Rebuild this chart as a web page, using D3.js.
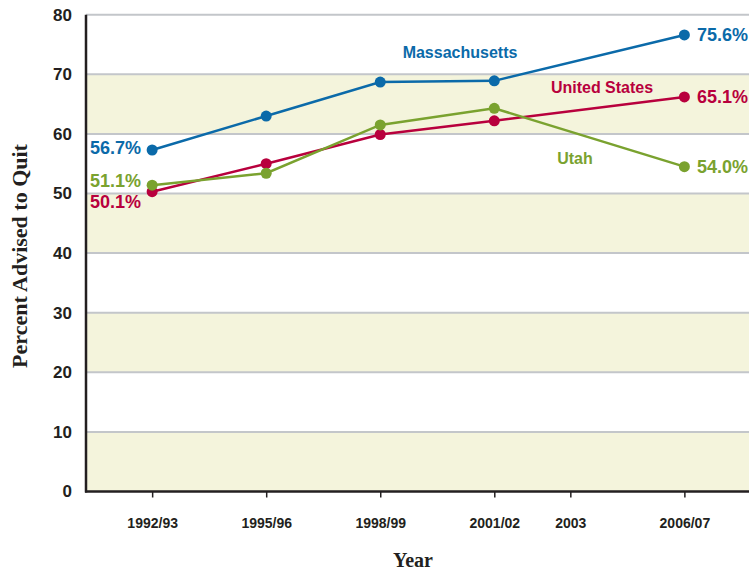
<!DOCTYPE html>
<html><head><meta charset="utf-8">
<script src="https://cdn.jsdelivr.net/npm/d3@7"></script>
<style>body{margin:0;background:#fff}svg{display:block}</style>
</head><body><svg id="c" width="749" height="573"></svg>
<script>
const years = [1992.5, 1995.5, 1998.5, 2001.5, 2006.5];
const tickYears = [1992.5, 1995.5, 1998.5, 2001.5, 2003.5, 2006.5];
const tickLabels = ["1992/93", "1995/96", "1998/99", "2001/02", "2003", "2006/07"];
const yTicks = [0, 10, 20, 30, 40, 50, 60, 70, 80];
const massachusetts = [57.3, 63.0, 68.7, 68.9, 76.6];
const unitedStates = [50.3, 55.0, 59.9, 62.2, 66.2];
const utah = [51.4, 53.4, 61.5, 64.3, 54.5];
const seriesNames = ["Massachusetts", "United States", "Utah"];
const startLabels = ["56.7%", "50.1%", "51.1%"];
const endLabels = ["75.6%", "65.1%", "54.0%"];

const svg = d3.select("#c");
const pL = 86, pR = 749, pT = 14.7, pB = 491.5;
const x = d3.scaleLinear().domain([1990.76, 2008.2]).range([pL, pR]);
const y = d3.scaleLinear().domain([0, 80]).range([pB, pT]);
const colors = ["#0b6aa9", "#b8003d", "#7aa22f"];
const cond = "'Liberation Sans Narrow','Arial Narrow','Liberation Sans',sans-serif";

// bands
[0, 20, 40, 60].forEach(v => {
  svg.append("rect").attr("x", pL).attr("width", pR - pL)
    .attr("y", y(v + 10)).attr("height", y(v) - y(v + 10)).attr("fill", "#f4f4dc");
});
// grid
svg.append("g").selectAll("line").data(yTicks.filter(d => d > 0)).join("line")
  .attr("x1", pL).attr("x2", pR).attr("y1", d => y(d)).attr("y2", d => y(d))
  .attr("stroke", "#c3c6ca").attr("stroke-width", 2);

// axes
const ax = svg.append("g").attr("transform", `translate(0,${pB})`)
  .call(d3.axisBottom(x).tickValues(tickYears).tickFormat((d, i) => tickLabels[i]).tickSize(6).tickPadding(21));
ax.select(".domain").remove();
ax.selectAll("line").attr("stroke", "#231f20").attr("stroke-width", 1.5);
ax.selectAll("text").attr("font-family", cond).attr("font-weight", "bold").attr("font-size", 14).attr("fill", "#231f20");

const ay = svg.append("g").attr("transform", `translate(${pL - 12},0)`)
  .call(d3.axisLeft(y).tickValues(yTicks).tickSize(0).tickPadding(2));
ay.select(".domain").remove();
ay.selectAll("text").attr("font-family", cond).attr("font-weight", "bold").attr("font-size", 17).attr("fill", "#231f20");

svg.append("line").attr("x1", pL).attr("x2", pL).attr("y1", pT).attr("y2", pB + 1)
  .attr("stroke", "#231f20").attr("stroke-width", 2.5);
svg.append("line").attr("x1", pL - 1).attr("x2", pR).attr("y1", pB).attr("y2", pB)
  .attr("stroke", "#231f20").attr("stroke-width", 2.5);

// series
const allSeries = [massachusetts, unitedStates, utah];
const line = d3.line().x((d, i) => x(years[i])).y(d => y(d));
[1, 2, 0].forEach(k => {
  const s = allSeries[k];
  svg.append("path").attr("d", line(s)).attr("fill", "none").attr("stroke", colors[k]).attr("stroke-width", 2.5);
  svg.append("g").selectAll("circle").data(s).join("circle")
    .attr("cx", (d, i) => x(years[i])).attr("cy", d => y(d)).attr("r", 5.5).attr("fill", colors[k]);
});

// labels
function txt(t, xx, yy, col, size, anchor) {
  svg.append("text").attr("x", xx).attr("y", yy).attr("fill", col).attr("font-family", cond)
    .attr("font-weight", "bold").attr("font-size", size).attr("text-anchor", anchor || "start")
    .attr("dominant-baseline", "central").text(t);
}
txt(seriesNames[0], 460, 52, colors[0], 16, "middle");
txt(seriesNames[1], 602, 87, colors[1], 16, "middle");
txt(seriesNames[2], 575, 158, colors[2], 16, "middle");
txt(startLabels[0], 141, 148, colors[0], 18, "end");
txt(startLabels[2], 141, 181, colors[2], 18, "end");
txt(startLabels[1], 141, 202, colors[1], 18, "end");
txt(endLabels[0], 697, 35, colors[0], 18);
txt(endLabels[1], 697, 97, colors[1], 18);
txt(endLabels[2], 697, 167, colors[2], 18);

// titles
svg.append("text").attr("x", 413).attr("y", 567).attr("text-anchor", "middle")
  .attr("font-family", "'Liberation Serif','Times New Roman',serif").attr("font-weight", "bold")
  .attr("font-size", 20).attr("fill", "#231f20").text("Year");
svg.append("text").attr("transform", "translate(27,256) rotate(-90)").attr("text-anchor", "middle")
  .attr("font-family", "'Liberation Serif','Times New Roman',serif").attr("font-weight", "bold")
  .attr("font-size", 22).attr("fill", "#231f20").text("Percent Advised to Quit");
</script></body></html>
